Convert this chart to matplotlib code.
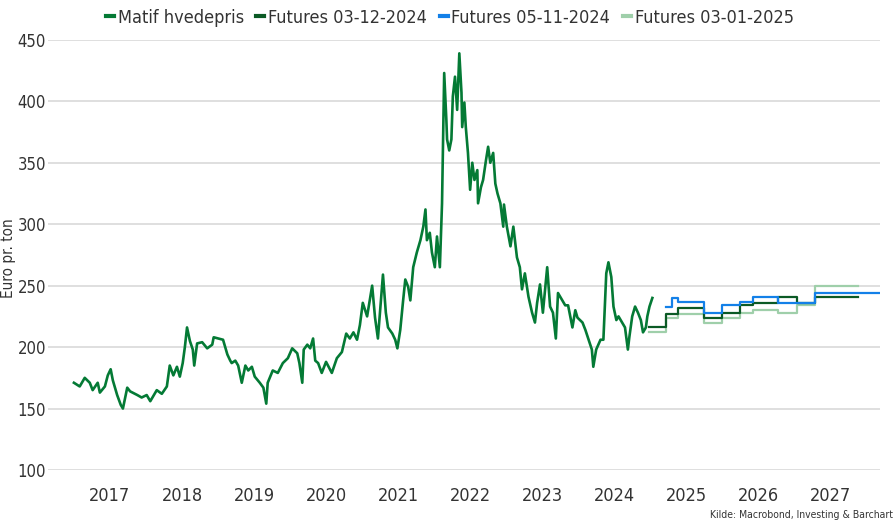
import matplotlib
matplotlib.use("Agg")
import matplotlib.pyplot as plt
from matplotlib import font_manager

# Skrifttype: vaelg den smalleste installerede sans-serif
stretch_vaerdi = {"ultra-condensed": 1, "extra-condensed": 2, "condensed": 3,
                  "semi-condensed": 4, "normal": 5}
foretrukne = ["Liberation Sans Narrow", "Noto Sans", "Open Sans", "Roboto",
              "DejaVu Sans", "Liberation Sans"]
bedst = ("DejaVu Sans", "normal", 99)
for f in font_manager.fontManager.ttflist:
    if f.name in foretrukne and f.style == "normal" and f.weight in (400, "normal", "regular"):
        s = f.stretch if isinstance(f.stretch, str) else "normal"
        v = stretch_vaerdi.get(s, 5)
        if f.name == "Liberation Sans Narrow":
            v = min(v, 3)
        if v < bedst[2] or (v == bedst[2] and foretrukne.index(f.name) < foretrukne.index(bedst[0])):
            bedst = (f.name, s, v)
plt.rcParams["font.family"] = [bedst[0], "DejaVu Sans"]
plt.rcParams["font.stretch"] = bedst[1]

# Matif hvedepris (decimal-aar, euro pr. ton), aflaest fra figuren
matif_dato = [
    2017.00, 2017.08, 2017.15, 2017.22, 2017.26, 2017.33, 2017.36, 2017.43, 2017.47, 2017.51,
    2017.54, 2017.60, 2017.65, 2017.68, 2017.74, 2017.78, 2017.88, 2017.94, 2018.01, 2018.06,
    2018.15, 2018.22, 2018.29, 2018.33, 2018.38, 2018.43, 2018.47, 2018.51, 2018.54, 2018.57,
    2018.61, 2018.65, 2018.67, 2018.71, 2018.78, 2018.85, 2018.92, 2018.94, 2019.07, 2019.13,
    2019.17, 2019.19, 2019.24, 2019.28, 2019.33, 2019.38, 2019.42, 2019.47, 2019.51, 2019.58,
    2019.63, 2019.67, 2019.69, 2019.76, 2019.83, 2019.90, 2019.97, 2020.03, 2020.10, 2020.13,
    2020.17, 2020.19, 2020.24, 2020.28, 2020.32, 2020.35, 2020.39, 2020.44, 2020.50, 2020.58,
    2020.65, 2020.72, 2020.78, 2020.83, 2020.88, 2020.93, 2020.97, 2021.01, 2021.07, 2021.14,
    2021.18, 2021.22, 2021.29, 2021.33, 2021.36, 2021.42, 2021.46, 2021.49, 2021.53, 2021.57,
    2021.60, 2021.64, 2021.67, 2021.71, 2021.76, 2021.81, 2021.85, 2021.88, 2021.90, 2021.94,
    2021.97, 2022.01, 2022.04, 2022.08, 2022.11, 2022.14, 2022.17, 2022.18, 2022.21, 2022.24,
    2022.26, 2022.29, 2022.32, 2022.35, 2022.38, 2022.39, 2022.42, 2022.44, 2022.47, 2022.50,
    2022.53, 2022.56, 2022.60, 2022.61, 2022.65, 2022.68, 2022.72, 2022.75, 2022.78, 2022.82,
    2022.85, 2022.88, 2022.92, 2022.96, 2022.97, 2023.01, 2023.06, 2023.10, 2023.15, 2023.19,
    2023.22, 2023.26, 2023.31, 2023.36, 2023.40, 2023.43, 2023.47, 2023.51, 2023.57, 2023.61,
    2023.65, 2023.69, 2023.72, 2023.78, 2023.82, 2023.86, 2023.92, 2023.96, 2023.99, 2024.06,
    2024.10, 2024.14, 2024.19, 2024.21, 2024.25, 2024.31, 2024.35, 2024.39, 2024.42, 2024.46,
    2024.49, 2024.53, 2024.56, 2024.61, 2024.65, 2024.69, 2024.71, 2024.75, 2024.79, 2024.83,
    2024.87, 2024.90, 2024.94, 2024.96, 2024.99, 2025.03,
]
matif_pris = [
    171, 168, 175, 171, 165, 171, 163, 168, 177, 182,
    173, 161, 153, 150, 167, 164, 161, 159, 161, 156,
    165, 162, 168, 185, 177, 184, 176, 187, 200, 216,
    205, 198, 185, 203, 204, 199, 202, 208, 206, 194,
    189, 187, 189, 185, 171, 185, 181, 184, 176, 171,
    167, 154, 171, 181, 179, 187, 191, 199, 195, 187,
    171, 198, 202, 199, 207, 189, 187, 179, 188, 179,
    191, 196, 211, 207, 212, 206, 218, 236, 225, 250,
    224, 207, 259, 228, 216, 211, 206, 199, 214, 238,
    255, 249, 238, 265, 277, 287, 298, 312, 287, 293,
    277, 265, 290, 265, 317, 423, 385, 369, 360, 369,
    404, 420, 393, 439, 407, 379, 399, 379, 358, 328,
    350, 336, 344, 317, 330, 336, 352, 363, 350, 358,
    333, 325, 317, 298, 316, 298, 282, 298, 273, 265,
    247, 260, 241, 228, 220, 236, 251, 228, 265, 233,
    228, 207, 244, 238, 234, 234, 216, 230, 224, 220,
    214, 207, 198, 184, 198, 206, 206, 260, 269, 257,
    233, 222, 225, 220, 216, 198, 208, 225, 233, 228,
    222, 212, 216, 225, 233, 240,
]

# Futureskurver (trappeformede), sidste punkt gentages til slutdato
fut_0312_dato = [2024.98, 2025.22, 2025.39, 2025.74, 2026.00, 2026.25, 2026.43, 2026.78, 2027.04, 2027.29, 2027.89]
fut_0312_pris = [216, 227, 232, 224, 228, 234, 236, 241, 236, 241, 241]

fut_0511_dato = [2025.22, 2025.30, 2025.39, 2025.74, 2026.00, 2026.25, 2026.43, 2026.78, 2027.29, 2028.17]
fut_0511_pris = [233, 240, 237, 228, 234, 237, 241, 236, 244, 244]

fut_0301_dato = [2024.98, 2025.22, 2025.39, 2025.74, 2026.00, 2026.25, 2026.43, 2026.78, 2027.04, 2027.29, 2027.89]
fut_0301_pris = [212, 224, 227, 220, 224, 228, 230, 228, 234, 250, 250]

aar = list(range(2017, 2028))

fig = plt.figure(figsize=(8.94, 5.24), dpi=100)
ax = fig.add_axes([48 / 894, 0.103, (880 - 48) / 894, 0.821])

ax.plot(fut_0301_dato, fut_0301_pris, drawstyle="steps-post", color="#9fcfaa", lw=1.6,
        label="Futures 03-01-2025", zorder=2)
ax.plot(fut_0312_dato, fut_0312_pris, drawstyle="steps-post", color="#0b5a25", lw=1.6,
        label="Futures 03-12-2024", zorder=3)
ax.plot(fut_0511_dato, fut_0511_pris, drawstyle="steps-post", color="#1380e8", lw=1.6,
        label="Futures 05-11-2024", zorder=4)
ax.plot(matif_dato, matif_pris, color="#047a35", lw=1.9, label="Matif hvedepris", zorder=5)

ax.set_xlim(2016.64, 2028.19)
ax.set_ylim(100, 450)
ax.set_yticks(range(100, 451, 50))
ax.set_xticks([a + 0.5 for a in aar])
ax.set_xticklabels([str(a) for a in aar])
ax.tick_params(axis="both", length=0, labelsize=13, colors="#333333")
ax.tick_params(axis="y", pad=1.5, labelsize=12)
ax.tick_params(axis="x", pad=12)
ax.grid(axis="y", color="#d6d6d6", lw=1.1)
ax.set_axisbelow(True)
for s in ax.spines.values():
    s.set_visible(False)

# y-aksens titel helt til venstre
fig.text(9 / 894, 0.508, "Euro pr. ton", rotation=90, ha="center", va="center",
         fontsize=11, color="#333333")

# Legende i toppen i samme raekkefoelge som originalen
h, l = ax.get_legend_handles_labels()
orden = [3, 1, 2, 0]
leg = fig.legend([h[i] for i in orden], [l[i] for i in orden], loc="center",
                 bbox_to_anchor=(0.503, 0.966), ncol=4, frameon=False, fontsize=13,
                 handlelength=0.45, handletextpad=0.2, columnspacing=0.7)
for line in leg.get_lines():
    line.set_linewidth(3)
for t in leg.get_texts():
    t.set_color("#333333")

fig.text(0.999, 0.008, "Kilde: Macrobond, Investing & Barchart", ha="right", va="bottom",
         fontsize=7.5, color="#333333")

plt.savefig("out.png", dpi=100)
